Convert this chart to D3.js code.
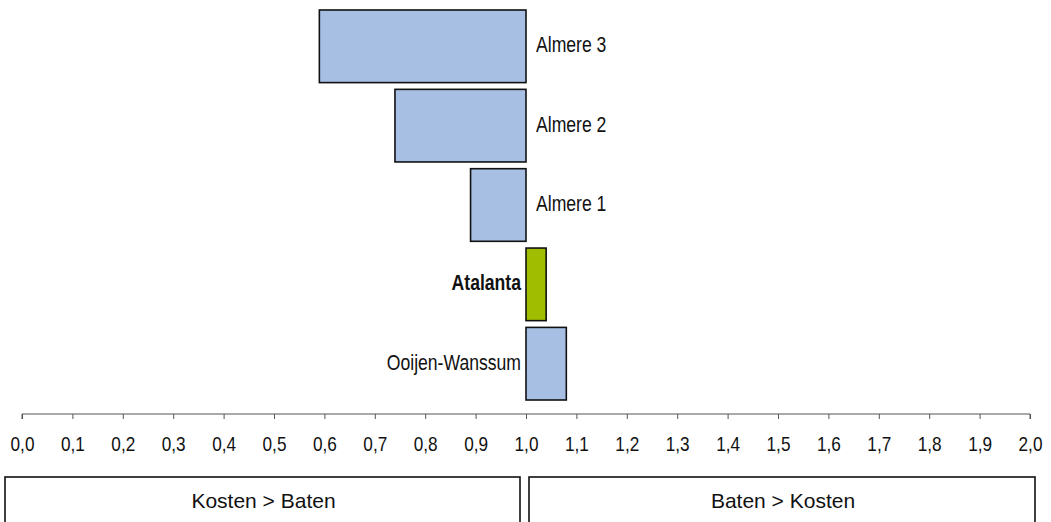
<!DOCTYPE html>
<html>
<head>
<meta charset="utf-8">
<script src="https://cdn.jsdelivr.net/npm/d3@7"></script>
<style>
  body { margin: 0; background: #fff; }
  svg { display: block; font-family: "Liberation Sans", Arial, sans-serif; }
</style>
</head>
<body>
<div id="chart"></div>
<script>
// Data
const projects = ['Almere 3', 'Almere 2', 'Almere 1', 'Atalanta', 'Ooijen-Wanssum'];
const ratios = [0.59, 0.74, 0.89, 1.04, 1.08];
const highlight = ['Atalanta'];
const tickValues = d3.range(0, 21).map(d => d / 10);
const zones = ['Kosten > Baten', 'Baten > Kosten'];

const width = 1051, height = 522;
const svg = d3.select('#chart').append('svg')
    .attr('width', width).attr('height', height);

const x = d3.scaleLinear().domain([0, 2]).range([22, 1030]);
const y = d3.scaleBand().domain(projects).range([10, 400]).paddingInner(0.085).paddingOuter(0);

const rows = projects.map((p, i) => ({ name: p, value: ratios[i], hi: highlight.includes(p) }));

// bars start at 1.0 and run to the ratio
svg.append('g').selectAll('rect').data(rows).join('rect')
    .attr('x', d => x(Math.min(1, d.value)))
    .attr('y', d => y(d.name))
    .attr('width', d => Math.abs(x(d.value) - x(1)))
    .attr('height', y.bandwidth())
    .attr('fill', d => d.hi ? '#a0bd00' : '#a7bfe3')
    .attr('stroke', '#111')
    .attr('stroke-width', 1.6);

// labels: tall, narrow type as in the original
svg.append('g').selectAll('text').data(rows).join('text')
    .attr('transform', d => `translate(${d.value < 1 ? x(1) + 10 : x(1) - 5},${y(d.name) + y.bandwidth() / 2 + 6}) scale(0.8,1)`)
    .attr('text-anchor', d => d.value < 1 ? 'start' : 'end')
    .attr('font-size', 22)
    .attr('font-weight', d => d.hi ? 'bold' : 'normal')
    .attr('fill', '#111')
    .text(d => d.name);

// axis
const axis = d3.axisBottom(x).tickValues(tickValues).tickSize(5).tickPadding(18)
    .tickFormat(d => d3.format('.1f')(d).replace('.', ','));
const ax = svg.append('g').attr('transform', 'translate(0,414)').call(axis);
ax.select('.domain').attr('stroke', '#555').attr('d', `M${x(0)},5V0H${x(2)}V5`);
ax.selectAll('.tick line').attr('stroke', '#555');
ax.selectAll('.tick text').attr('font-size', 20).attr('fill', '#111')
    .attr('font-family', '"Liberation Sans", Arial, sans-serif')
    .attr('transform', 'scale(0.86,1)');

// zone boxes underneath, split just around 1.0
const boxX = [5, x(1) + 3];
const boxR = [x(1) - 6, x(2) + 5];
const zg = svg.append('g').selectAll('g').data(zones).join('g');
zg.append('rect')
    .attr('x', (d, i) => boxX[i])
    .attr('y', 477)
    .attr('width', (d, i) => boxR[i] - boxX[i])
    .attr('height', 60)
    .attr('fill', 'none')
    .attr('stroke', '#111')
    .attr('stroke-width', 1.6);
zg.append('text')
    .attr('x', (d, i) => (boxX[i] + boxR[i]) / 2 + 1)
    .attr('y', 501)
    .attr('dy', '0.35em')
    .attr('text-anchor', 'middle')
    .attr('font-size', 21)
    .attr('fill', '#111')
    .text(d => d);
</script>
</body>
</html>
